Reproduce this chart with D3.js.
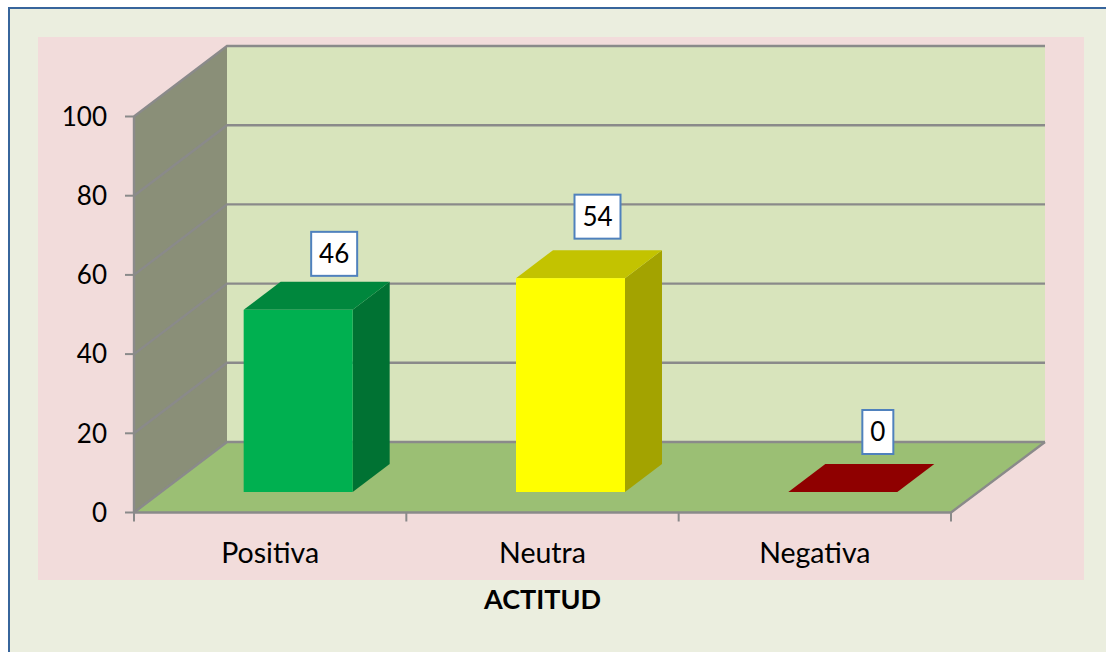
<!DOCTYPE html>
<html><head><meta charset="utf-8">
<script src="https://cdn.jsdelivr.net/npm/d3@7"></script>
<style>html,body{margin:0;padding:0;background:#fff}svg{display:block}text{font-family:Lato,Carlito,sans-serif;fill:#000}</style>
</head><body><svg id="c" width="1106" height="652"></svg>
<script>
const categories = ["Positiva","Neutra","Negativa"];
const values = [46,54,0];
const yTicks = [0,20,40,60,80,100];
const axisTitle = "ACTITUD";
const barFront = ["#00b050","#ffff00","#c00000"];
const barTop = ["#00873d","#c3c300","#8f0000"];
const barSide = ["#007233","#a3a300","#7a0000"];
const labelNudgeX = [36,27,35];
const labelGap = [34,39.5,38];

const svg = d3.select("#c");
const x0=134,x1=951,y0=512.5,y1=116.5;
const depthX=93,depthY=-70.5;
const barDX=28,barDY=-20.5,barSideX=37,barSideY=-28;
const grey="#8a8a8a";
const band=d3.scaleBand().domain(categories).range([x0,x1]);
const y=d3.scaleLinear().domain([0,100]).range([y0,y1]);
const poly=p=>p.map(d=>d.join(",")).join(" ");

// frame
svg.append("rect").attr("x",9).attr("y",8).attr("width",1120).attr("height",700).attr("fill","#ebeedf").attr("stroke","#37659c").attr("stroke-width",2);
svg.append("rect").attr("x",38).attr("y",37).attr("width",1046).attr("height",543).attr("fill","#f2dcdb");

// walls
svg.append("polygon").attr("points",poly([[x0+depthX,y1+depthY],[x1+depthX+1,y1+depthY],[x1+depthX+1,y0+depthY],[x0+depthX,y0+depthY]])).attr("fill","#d8e4bc");
svg.append("polygon").attr("points",poly([[x0,y0],[x0,y1],[x0+depthX,y1+depthY],[x0+depthX,y0+depthY]])).attr("fill","#8a8f78");
svg.append("polygon").attr("points",poly([[x0,y0],[x0+depthX,y0+depthY],[x1+depthX+1,y0+depthY],[x1,y0]])).attr("fill","#9bbf74");

// grid
const grid=svg.append("g").attr("fill","none").attr("stroke",grey).attr("stroke-width",2.4);
yTicks.forEach(t=>{
  const yy=y(t);
  grid.append("path").attr("d",d3.line()([[x0,yy],[x0+depthX,yy+depthY],[x1+depthX+1,yy+depthY]]));
});
grid.append("path").attr("d",d3.line()([[x0,y0],[x0,y1]]));
grid.append("path").attr("d",d3.line()([[x0,y0],[x1,y0],[x1+depthX+1,y0+depthY]]));

// axes ticks
const axis=svg.append("g").attr("stroke",grey).attr("stroke-width",2);
yTicks.forEach(t=>axis.append("line").attr("x1",x0-9).attr("x2",x0).attr("y1",y(t)).attr("y2",y(t)));
[...categories.map(c=>band(c)),x1].forEach(v=>axis.append("line").attr("x1",v).attr("x2",v).attr("y1",y0).attr("y2",y0+9));

svg.append("g").selectAll("text").data(yTicks).join("text")
  .attr("x",x0-27).attr("y",d=>y(d)).attr("dy","0.36em").attr("text-anchor","end").attr("font-size",26).text(d=>d);

svg.append("g").selectAll("text").data(categories).join("text")
  .attr("x",d=>band(d)+band.bandwidth()/2).attr("y",563).attr("text-anchor","middle").attr("font-size",28.5).text(d=>d);
svg.append("text").attr("x",542.5).attr("y",609).attr("text-anchor","middle").attr("font-size",27).attr("font-weight",700).text(axisTitle);

// bars
const bw=109;
values.forEach((v,i)=>{
  const l=band(categories[i])+(band.bandwidth()-bw)/2+barDX, r=l+bw, b=y0+barDY, t=y(v)+barDY;
  if(v>0) svg.append("polygon").attr("points",poly([[r,t],[r+barSideX,t+barSideY],[r+barSideX,b+barSideY],[r,b]])).attr("fill",barSide[i]);
  svg.append("polygon").attr("points",poly([[l,t],[l+barSideX,t+barSideY],[r+barSideX,t+barSideY],[r,t]])).attr("fill",barTop[i]);
  if(v>0) svg.append("rect").attr("x",l).attr("y",t).attr("width",bw).attr("height",b-t).attr("fill",barFront[i]);
  // label
  const cx=l+bw/2+labelNudgeX[i], bot=t-labelGap[i];
  const w=String(v).length>1?46:31, h=44;
  svg.append("rect").attr("x",cx-w/2).attr("y",bot-h).attr("width",w).attr("height",h).attr("fill","#fff").attr("stroke","#4f81bd").attr("stroke-width",2);
  svg.append("text").attr("x",cx).attr("y",bot-h/2).attr("dy","0.36em").attr("text-anchor","middle").attr("font-size",26).text(v);
});
</script></body></html>
